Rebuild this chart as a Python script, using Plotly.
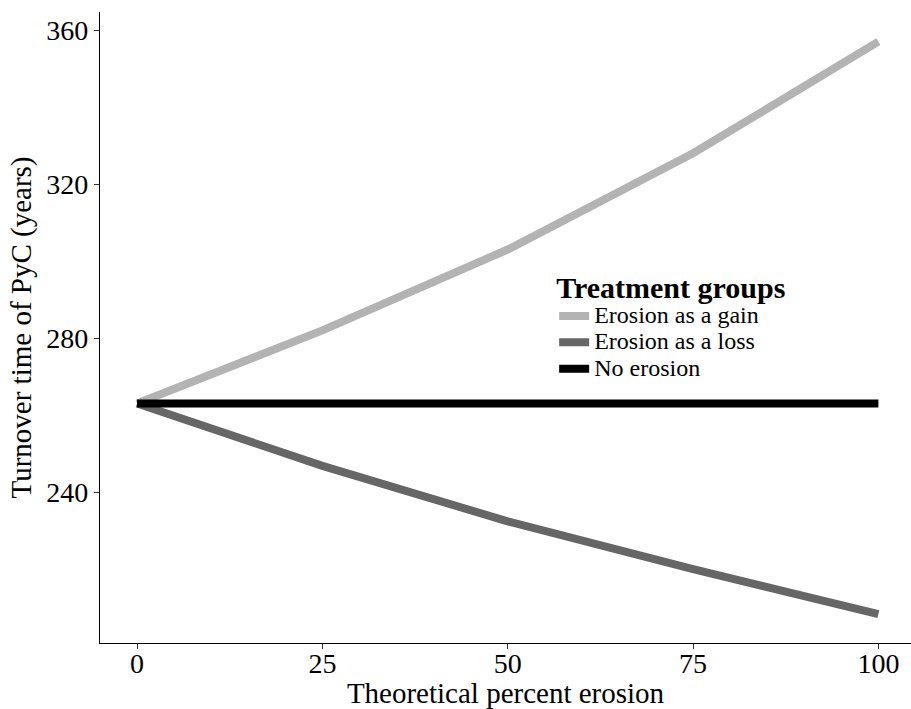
import plotly.graph_objects as go

# Theoretical erosion scenarios (percent) and modelled PyC turnover time (years)
erosion_pct = [0, 25, 50, 75, 100]
gain_years = [263, 282, 303, 328, 357]
loss_years = [263, 246.8, 232.4, 220, 208.3]
none_years = [263, 263, 263, 263, 263]

series = [
    ("Erosion as a gain", gain_years, "#b3b3b3"),
    ("Erosion as a loss", loss_years, "#666666"),
    ("No erosion", none_years, "#000000"),
]

x_ticks = [0, 25, 50, 75, 100]
y_ticks = [240, 280, 320, 360]

FONT = "Liberation Serif, Times New Roman, serif"

fig = go.Figure()
for name, values, color in series:
    fig.add_trace(go.Scatter(
        x=erosion_pct, y=values, mode="lines",
        name=f'<span style="font-size:24px">{name}</span>',
        line=dict(color=color, width=8),
        hoverinfo="skip",
    ))

axis_common = dict(
    showgrid=False, zeroline=False,
    showline=True, linecolor="#000000", linewidth=1.2,
    ticks="outside", ticklen=5, tickwidth=1.2, tickcolor="#333333",
    tickfont=dict(family=FONT, size=28, color="#000000"),
)

fig.update_layout(
    width=911, height=709,
    margin=dict(l=100, r=0, t=12, b=66),
    paper_bgcolor="white", plot_bgcolor="white",
    font=dict(family=FONT, color="#000000"),
    xaxis=dict(
        range=[-5, 104.4], tickvals=x_ticks, ticklabelstandoff=-10,
        title=dict(text="Theoretical percent erosion",
                   font=dict(family=FONT, size=29), standoff=0),
        **axis_common,
    ),
    yaxis=dict(
        range=[200.8, 364.7], tickvals=y_ticks,
        title=dict(text="Turnover time of PyC (years)",
                   font=dict(family=FONT, size=29), standoff=6),
        **axis_common,
    ),
    legend=dict(
        x=0.56, y=0.609, xanchor="left", yanchor="top",
        bgcolor="rgba(0,0,0,0)",
        font=dict(family=FONT, size=18, color="#000000"),
        title=dict(text="<b>Treatment groups</b>",
                   font=dict(family=FONT, size=30, color="#000000")),
        traceorder="normal",
    ),
    showlegend=True,
)

fig.write_html("out.html")
